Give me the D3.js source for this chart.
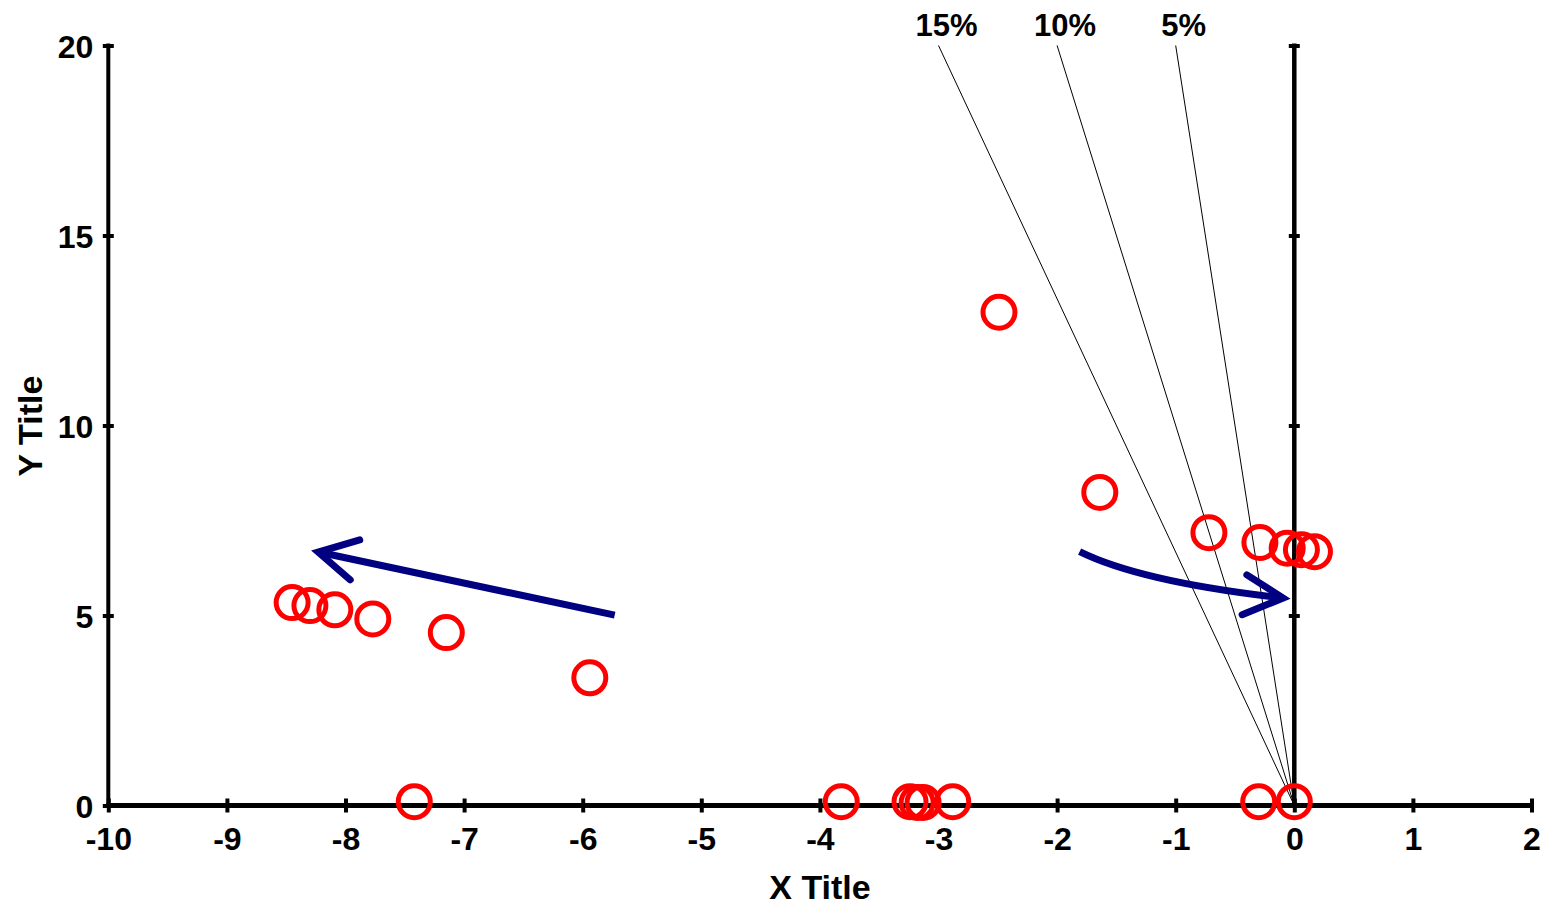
<!DOCTYPE html>
<html>
<head>
<meta charset="utf-8">
<script src="https://cdn.jsdelivr.net/npm/d3@7"></script>
<style>
  html, body { margin: 0; padding: 0; background: #fff; }
  text { font-family: "Liberation Sans", Arial, sans-serif; font-weight: bold; fill: #000; }
</style>
</head>
<body>
<svg id="chart"></svg>
<script>
// data
const pointX = [-8.45, -8.30, -8.09, -7.77, -7.15, -5.94,
                -7.42, -3.82, -3.24, -3.18, -3.13, -2.88, -0.30, 0.0,
                -2.49, -1.64, -0.72, -0.29, -0.06, 0.06, 0.17];
const pointY = [5.34, 5.26, 5.15, 4.91, 4.55, 3.36,
                0.1, 0.1, 0.1, 0.08, 0.08, 0.1, 0.1, 0.1,
                12.98, 8.24, 7.18, 6.92, 6.77, 6.73, 6.68];

const xTicks = [-10, -9, -8, -7, -6, -5, -4, -3, -2, -1, 0, 1, 2];
const yTicks = [0, 5, 10, 15, 20];

const guideLabels = ["15%", "10%", "5%"];
const guideTopX = [-3, -2, -1];

const leftArrowShaft = [[-5.73, 5.01], [-8.23, 6.67]];
const leftArrowHead = [[-7.88, 6.99], [-8.23, 6.67], [-7.96, 5.94]];
const curveArrowShaft = [[-1.81, 6.68], [-1.29, 5.88], [-0.095, 5.46]];
const curveArrowHead = [[-0.40, 6.07], [-0.095, 5.46], [-0.44, 5.02]];

const width = 1546;
const height = 905;

const svg = d3.select("#chart")
              .attr("width", width)
              .attr("height", height)
              .style("background-color", "white");

const x = d3.scaleLinear().domain([-10, 2]).range([108.3, 1531.5]);
const y = d3.scaleLinear().domain([0, 20]).range([805.5, 45.5]);

// plain hyphen for negatives, like the original
const fmt = d => String(d);

// guide lines from origin
svg.append("g")
   .selectAll("line")
   .data(guideTopX)
   .enter().append("line")
           .attr("x1", x(0)).attr("y1", y(0))
           .attr("x2", d => x(d)).attr("y2", y(20))
           .attr("stroke", "#000")
           .attr("stroke-width", 1);

svg.append("g")
   .selectAll("text")
   .data(guideLabels)
   .enter().append("text")
           .attr("x", (d, i) => x(guideTopX[i]) + 8)
           .attr("y", 36)
           .attr("text-anchor", "middle")
           .style("font-size", "31px")
           .text(d => d);

// axes
function crossTicks(g, horizontal, size) {
    g.select(".domain").remove();
    g.selectAll(".tick line")
     .attr("stroke", "#000")
     .attr("stroke-width", 4);
    if (horizontal) g.selectAll(".tick line").attr("y1", -size).attr("y2", size);
    else g.selectAll(".tick line").attr("x1", -size).attr("x2", size);
}

const yAxis = svg.append("g")
   .attr("transform", `translate(${x(-10)},0)`)
   .call(d3.axisLeft(y).tickValues(yTicks).tickFormat(fmt).tickSize(0).tickPadding(15));
yAxis.call(g => crossTicks(g, false, 5.5));
yAxis.selectAll("text").style("font-size", "32px").attr("dy", "0.36em");
yAxis.append("line")
     .attr("y1", y(20) - 2).attr("y2", y(0))
     .attr("stroke", "#000").attr("stroke-width", 4);

const zeroAxis = svg.append("g")
   .attr("transform", `translate(${x(0)},0)`)
   .call(d3.axisRight(y).tickValues(yTicks.slice(1)).tickSize(0).tickFormat(""));
zeroAxis.call(g => crossTicks(g, false, 5.5));
zeroAxis.append("line")
        .attr("y1", y(20) - 2).attr("y2", y(0))
        .attr("stroke", "#000").attr("stroke-width", 4.5);

const xAxis = svg.append("g")
   .attr("transform", `translate(0,${y(0)})`)
   .call(d3.axisBottom(x).tickValues(xTicks).tickFormat(fmt).tickSize(0).tickPadding(22));
xAxis.call(g => crossTicks(g, true, 7));
xAxis.selectAll("text").style("font-size", "32px").attr("dy", "0.71em");
xAxis.append("line")
     .attr("x1", x(-10) - 2).attr("x2", x(2) + 2)
     .attr("stroke", "#000").attr("stroke-width", 5);

// axis titles
svg.append("text")
   .attr("x", 820).attr("y", 899)
   .attr("text-anchor", "middle")
   .style("font-size", "34px")
   .text("X Title");

svg.append("text")
   .attr("transform", "translate(42,426) rotate(-90)")
   .attr("text-anchor", "middle")
   .style("font-size", "34px")
   .text("Y Title");

// arrows
const navy = "#000080";
const straight = d3.line().x(d => x(d[0])).y(d => y(d[1]));

svg.append("path")
   .attr("d", straight(leftArrowShaft))
   .attr("fill", "none").attr("stroke", navy).attr("stroke-width", 7);
svg.append("path")
   .attr("d", straight(leftArrowHead))
   .attr("fill", "none").attr("stroke", navy).attr("stroke-width", 7)
   .attr("stroke-linecap", "round");

const cp = d3.path();
cp.moveTo(x(curveArrowShaft[0][0]), y(curveArrowShaft[0][1]));
cp.quadraticCurveTo(x(curveArrowShaft[1][0]), y(curveArrowShaft[1][1]),
                    x(curveArrowShaft[2][0]), y(curveArrowShaft[2][1]));
svg.append("path")
   .attr("d", cp.toString())
   .attr("fill", "none").attr("stroke", navy).attr("stroke-width", 7);
svg.append("path")
   .attr("d", straight(curveArrowHead))
   .attr("fill", "none").attr("stroke", navy).attr("stroke-width", 7)
   .attr("stroke-linecap", "round");

// points
svg.append("g")
   .selectAll("circle")
   .data(pointX)
   .enter().append("circle")
           .attr("cx", d => x(d))
           .attr("cy", (d, i) => y(pointY[i]))
           .attr("r", 16)
           .attr("fill", "none")
           .attr("stroke", "#ff0000")
           .attr("stroke-width", 5);
</script>
</body>
</html>
